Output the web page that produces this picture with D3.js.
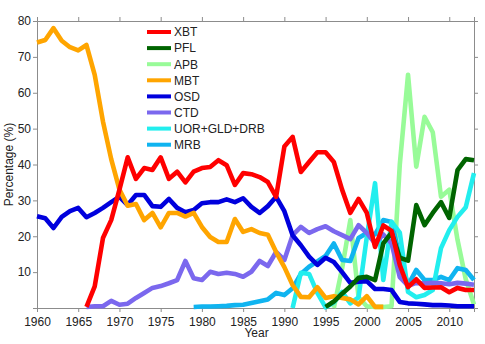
<!DOCTYPE html>
<html>
<head>
<meta charset="utf-8">
<script src="https://cdn.jsdelivr.net/npm/d3@7"></script>
<style>
    body { margin: 0; background: #fff; }
    text { font-family: 'Liberation Sans', Arial, Helvetica, sans-serif; }
</style>
</head>
<body>
<div id="chart"></div>
<script>
// Years 1960..2013, one value per year (null = no data that year)
const years = [
    1960, 1961, 1962, 1963, 1964, 1965, 1966, 1967, 1968, 1969,
    1970, 1971, 1972, 1973, 1974, 1975, 1976, 1977, 1978, 1979,
    1980, 1981, 1982, 1983, 1984, 1985, 1986, 1987, 1988, 1989,
    1990, 1991, 1992, 1993, 1994, 1995, 1996, 1997, 1998, 1999,
    2000, 2001, 2002, 2003, 2004, 2005, 2006, 2007, 2008, 2009,
    2010, 2011, 2012, 2013
];

const xbt = [
    null, null, null, null, null, null, 0.3, 6, 19.5, 24.5,
    33, 42, 36, 39, 38.5, 42, 36, 38, 35, 38,
    39, 39.3, 41.2, 39.8, 34.3, 37.6, 37.3, 36.5, 35.1, 31,
    45, 47.7, 37.9, 40.7, 43.4, 43.4, 40.7, 33, 26.5, 30.4,
    26.5, 17, 23, 21.5, 12, 5.8, 8, 5.6, 5.7, 5.8,
    4.4, 5.6, 5, 5
];

const pfl = [
    null, null, null, null, null, null, null, null, null, null,
    null, null, null, null, null, null, null, null, null, null,
    null, null, null, null, null, null, null, null, null, null,
    null, null, null, null, null, 0.3, 1.8, 4, 6, 8.4,
    8.7, 7.8, 18, 21, 14, 13.2, 28.7, 23.1, 26.5, 29.5,
    25.1, 38.4, 41.5, 41.2
];

const apb = [
    null, null, null, null, null, null, null, null, null, null,
    null, null, null, null, null, null, null, null, null, null,
    null, null, null, null, null, null, null, null, null, null,
    null, null, null, null, null, null, 0, 11, 24.5, 3,
    0.5, 0.3, 0.3, 0.5, 40, 65, 39.4, 53.3, 49, 31,
    33, 19, 8, 1
];

const mbt = [
    74, 74.7, 78, 74.5, 72.7, 71.8, 73.3, 65, 52, 41.5,
    33, 28.5, 29, 24.5, 26.5, 22.5, 26.5, 26.5, 25.5, 26.5,
    22.6, 19.8, 18.4, 18.4, 24.8, 21.2, 22, 20.9, 20.4, 15.6,
    11.4, 6.4, 3.1, 3, 5.8, 2.8, 3.3, 2.8, 2.4, 1,
    3.3, 0.3, 0.3, null, null, null, null, null, null, null,
    null, null, null, null
];

const osd = [
    25.6, 25, 22.3, 25.4, 27, 27.9, 25.3, 26.5, 27.9, 29.5,
    31, 28.7, 31.5, 31.5, 28.4, 28.2, 30.4, 27.9, 26.7, 27.3,
    29.2, 29.5, 29.5, 30.3, 29.5, 30.6, 28.2, 26.5, 28.4, 31,
    27, 20.3, 17.5, 14.3, 12, 14, 12.8, 10, 7, 7.3,
    7.5, 5.3, 5.3, 5, 1.7, 1.3, 1.2, 1, 0.8, 0.8,
    0.7, 0.5, 0.5, 0.5
];

const ctd = [
    null, null, null, null, null, null, 0.3, 0.5, 0.5, 2,
    0.9, 1.2, 2.8, 4.2, 5.6, 6.1, 6.9, 7.8, 13.1, 8.3,
    7.8, 10.1, 9.5, 9.8, 9.5, 8.7, 10.1, 13.1, 11.7, 15.6,
    13.4, 20.3, 22.6, 20.9, 22, 22.8, 21.4, 20.3, 19.2, 23.1,
    20.9, 18, 20.5, 18, 8.6, 6.2, 7, 6.8, 7, 6.9,
    6.6, 7, 6.8, 6.5
];

const uor = [
    null, null, null, null, null, null, null, null, null, null,
    null, null, null, null, null, null, null, null, null, null,
    null, null, null, null, null, null, null, null, null, null,
    null, 0, 9.8, 9.5, 4.2, 0.2, 1.5, 4.5, 1.3, 3,
    19.8, 34.8, 7.8, 24, 21, 4.5, 3, 3.6, 5, 16.7,
    21.7, 25.4, 28.1, 37.6
];

const mrb = [
    null, null, null, null, null, null, null, null, null, null,
    null, null, null, null, null, null, null, null, null, 0.3,
    0.4, 0.4, 0.5, 0.6, 0.8, 0.9, 1.4, 1.9, 2.4, 4.2,
    3.6, 5.5, 9.5, 11.5, 13, 14.5, 18, 13.4, 13.1, 19.5,
    20.9, 20.5, 24.5, 24, 14.2, 6.4, 10.6, 7.8, 7.8, 8.7,
    7.8, 11.1, 10.6, 7.8
];

const seriesNames = ['XBT', 'PFL', 'APB', 'MBT', 'OSD', 'CTD', 'UOR+GLD+DRB', 'MRB'];
const seriesValues = [xbt, pfl, apb, mbt, osd, ctd, uor, mrb];
const seriesColors = ['#ff0000', '#006400', '#98fb98', '#ffa500', '#0000dd', '#7b68ee', '#22eeee', '#10b4f0'];

const xTicks = [1960, 1965, 1970, 1975, 1980, 1985, 1990, 1995, 2000, 2005, 2010];
const yTicks = [10, 20, 30, 40, 50, 60, 70, 80];

const width = 485;
const height = 344;
const margin = { top: 21, right: 11, bottom: 36, left: 37 };

const svg = d3
    .select('#chart')
    .append('svg')
    .attr('width', width)
    .attr('height', height);

const x = d3
    .scaleLinear()
    .domain([1960, 2013])
    .range([margin.left, width - margin.right]);

const y = d3
    .scaleLinear()
    .domain([0, 80])
    .range([height - margin.bottom, margin.top]);

// Box axes, ticks pointing outwards
const axisColor = '#8c8c8c';

function styleAxis(g) {
    g.select('.domain').attr('stroke', axisColor);
    g.selectAll('.tick line').attr('stroke', axisColor);
    g.selectAll('.tick text')
        .attr('fill', '#222')
        .style('font-size', '12px');
}

svg.append('g')
    .attr('transform', `translate(0, ${y(0)})`)
    .call(d3.axisBottom(x).tickValues(xTicks).tickFormat(d3.format('d')).tickSizeOuter(0).tickSize(4).tickPadding(5))
    .call(styleAxis);

svg.append('g')
    .attr('transform', `translate(0, ${y(80)})`)
    .call(d3.axisTop(x).tickValues(xTicks).tickFormat('').tickSizeOuter(0).tickSize(4))
    .call(styleAxis);

svg.append('g')
    .attr('transform', `translate(${x(1960)}, 0)`)
    .call(d3.axisLeft(y).tickValues(yTicks).tickSizeOuter(0).tickSize(4).tickPadding(2))
    .call(styleAxis);

svg.append('g')
    .attr('transform', `translate(${x(2013)}, 0)`)
    .call(d3.axisRight(y).tickValues(yTicks).tickFormat('').tickSizeOuter(0).tickSize(4))
    .call(styleAxis);

// Axis titles
svg.append('text')
    .attr('x', (x(1960) + x(2013)) / 2 + 1)
    .attr('y', 337)
    .attr('text-anchor', 'middle')
    .attr('fill', '#222')
    .style('font-size', '12px')
    .text('Year');

svg.append('text')
    .attr('transform', `translate(13, ${(y(0) + y(80)) / 2}) rotate(-90)`)
    .attr('text-anchor', 'middle')
    .attr('fill', '#222')
    .style('font-size', '12px')
    .text('Percentage (%)');

// Lines: APB at the bottom, then the rest last-to-first so XBT ends up on top
const line = d3
    .line()
    .defined(d => d.v != null)
    .x(d => x(d.year))
    .y(d => y(d.v));

const order = [2, 7, 6, 5, 4, 3, 1, 0];

svg.append('g')
    .selectAll('path')
    .data(order)
    .enter()
    .append('path')
    .attr('d', i => line(years.map((year, k) => ({ year, v: seriesValues[i][k] }))))
    .attr('fill', 'none')
    .attr('stroke', i => seriesColors[i])
    .attr('stroke-width', 4.6)
    .attr('stroke-linejoin', 'round');

// Legend
const legend = svg
    .append('g')
    .selectAll('g')
    .data(seriesNames)
    .enter()
    .append('g')
    .attr('transform', (d, i) => `translate(147, ${32 + i * 16.1})`);

legend.append('line')
    .attr('x1', 0)
    .attr('x2', 24)
    .attr('stroke', (d, i) => seriesColors[i])
    .attr('stroke-width', 4);

legend.append('text')
    .attr('x', 27)
    .attr('dy', '0.36em')
    .attr('fill', '#222')
    .style('font-size', '12px')
    .text(d => d);
</script>
</body>
</html>
